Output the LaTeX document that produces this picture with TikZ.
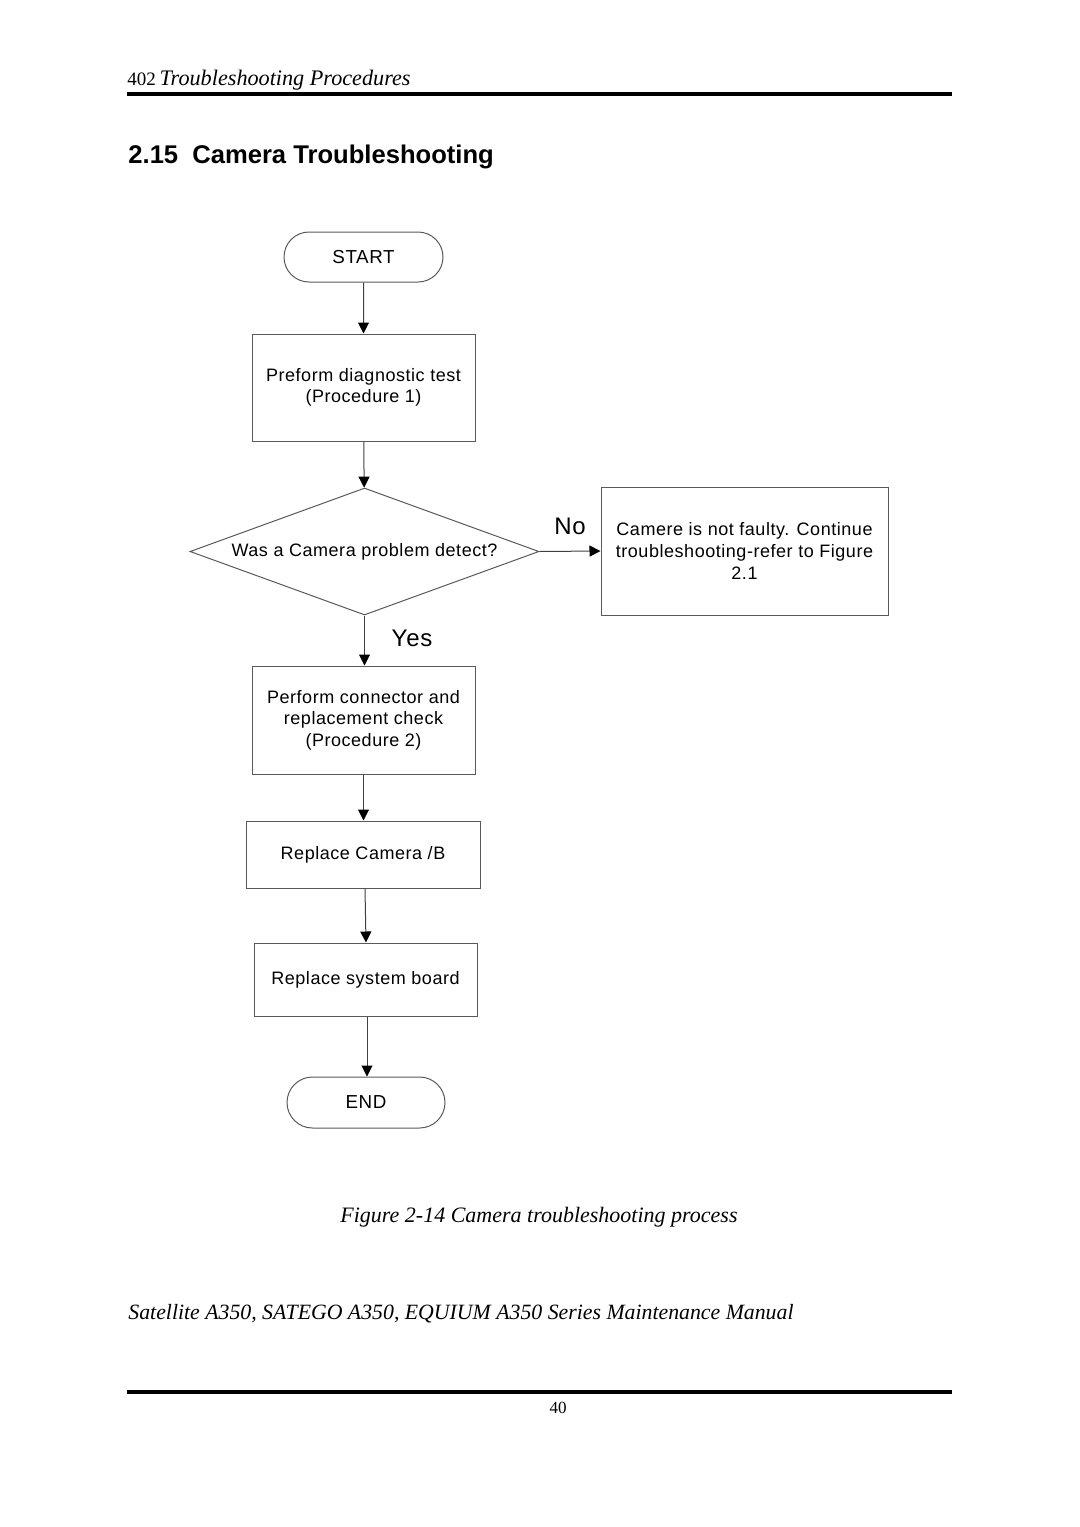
\documentclass[tikz,border=0pt]{standalone}
\usepackage{fontspec}
\setmainfont{Liberation Serif}
\setsansfont{Liberation Sans}
\usetikzlibrary{arrows.meta,shapes.misc,shapes.geometric}
\newfontfamily\flowfont[LetterSpace=3]{Liberation Sans}
\tikzset{
  px/.style={x=0.5pt,y=-0.5pt},
  flow/.style={draw=black!65,line width=0.5pt},
  boxnode/.style={flow,rectangle,inner sep=0pt,align=center,font=\flowfont\fontsize{9}{10.8}\selectfont},
  term/.style={flow,rounded rectangle,inner sep=0pt,font=\flowfont\fontsize{9.4}{10}\selectfont},
  dec/.style={flow,diamond,inner sep=0pt,font=\flowfont\fontsize{9}{10}\selectfont},
  conn/.style={draw=black!75,line width=0.5pt,-{Triangle[length=5.5pt,width=5.5pt,color=black]}},
  lab/.style={font=\flowfont\fontsize{12}{14}\selectfont,inner sep=0pt},
  rule/.style={line width=2pt,black}
}
\begin{document}
\begin{tikzpicture}[px]
\useasboundingbox (0,0) rectangle (1080,1527);
% header
\node[anchor=base west,inner sep=0pt,font=\fontsize{11.1}{13}\selectfont] (hdr) at (127,85) {{\fontsize{9.5}{11}\selectfont 402}\,\textit{Troubleshooting Procedures}};
\draw[rule] (127,94) -- (952,94);
\node[anchor=base west,inner sep=0pt,font=\sffamily\bfseries\fontsize{12.8}{15}\selectfont] (title) at (128,163) {2.15\hspace{0.55em}Camera Troubleshooting};
% flowchart
\node[term,minimum width=79.5pt,minimum height=25pt] (start) at (363.5,257) {START};
\node[boxnode,minimum width=111.5pt,minimum height=53.5pt] (b1) at (363.5,387.5) {Preform diagnostic test\\(Procedure 1)};
\node[dec,minimum width=174.5pt,minimum height=63.5pt,aspect=2.75] (d1) at (364.5,551.5) {Was a Camera problem detect?};
\node[boxnode,minimum width=143.5pt,minimum height=64pt] (b2) at (744.5,551) {Camere is not faulty. Continue\\troubleshooting-refer to Figure\\2.1};
\node[boxnode,minimum width=111.5pt,minimum height=54pt] (b3) at (363.5,720) {Perform connector and\\replacement check\\(Procedure 2)};
\node[boxnode,minimum width=117pt,minimum height=33.5pt] (b4) at (363,854.5) {Replace Camera /B};
\node[boxnode,minimum width=111.5pt,minimum height=36.5pt] (b5) at (365.5,979.5) {Replace system board};
\node[term,minimum width=79pt,minimum height=25.5pt] (stop) at (366,1102.5) {END};
\draw[conn] (start) -- (b1);
\draw[conn] (b1) -- (d1);
\draw[conn] (d1.east) -- (b2.west);
\draw[conn] (d1.south) -- (b3.north -| d1.south);
\draw[conn] (b3.south) -- (b4.north -| b3.south);
\draw[conn] (b4.south -| 365,0) -- (b5.north -| 366,0);
\draw[conn] (b5.south -| 367,0) -- (stop.north -| 367,0);
\node[lab] (no) at (570,526) {No};
\node[lab] (yes) at (412,638) {Yes};
% caption and footer
\node[anchor=base,inner sep=0pt,font=\itshape\fontsize{11}{13}\selectfont] (cap) at (539,1222) {Figure 2-14 Camera troubleshooting process};
\node[anchor=base west,inner sep=0pt,font=\itshape\fontsize{10.9}{13}\selectfont] (foot) at (128,1319) {Satellite A350, SATEGO A350, EQUIUM A350 Series Maintenance Manual};
\draw[rule] (127,1392) -- (952,1392);
\node[anchor=base,inner sep=0pt,font=\fontsize{8.5}{10}\selectfont] (pg) at (558,1413) {40};
\end{tikzpicture}
\end{document}
